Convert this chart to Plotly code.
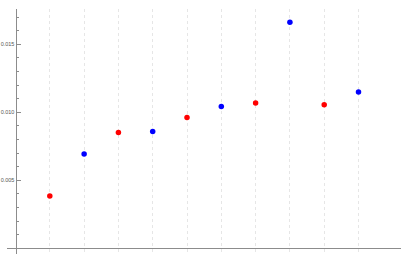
import plotly.graph_objects as go

red_x = [1, 3, 5, 7, 9]
red_y = [0.00385, 0.00851, 0.00961, 0.01069, 0.01056]
blue_x = [2, 4, 6, 8, 10]
blue_y = [0.00693, 0.00858, 0.01042, 0.01662, 0.01150]
x_ticks = [1, 2, 3, 4, 5, 6, 7, 8, 9, 10]
y_ticks = [0.005, 0.010, 0.015]
y_tick_text = ["0.005", "0.010", "0.015"]

fig = go.Figure()
fig.add_trace(go.Scatter(x=red_x, y=red_y, mode="markers",
                         marker=dict(color="#ff0000", size=5.5), showlegend=False))
fig.add_trace(go.Scatter(x=blue_x, y=blue_y, mode="markers",
                         marker=dict(color="#0000ff", size=5.5), showlegend=False))

fig.update_layout(
    width=406, height=254,
    margin=dict(l=7, r=5, t=9, b=0, autoexpand=False),
    paper_bgcolor="white", plot_bgcolor="white",
    xaxis=dict(range=[-0.248, 11.239], tickvals=x_ticks, showticklabels=False,
               showgrid=True, gridcolor="#e6e6e6", griddash="3px,3px", gridwidth=1,
               zeroline=False, showline=False, ticks="", automargin=False),
    yaxis=dict(range=[-0.000419, 0.017596], anchor="free", position=0.0216,
               tickvals=y_ticks, ticktext=y_tick_text, automargin=False,
               showline=True, linecolor="#8c8c8c", linewidth=1,
               ticks="inside", ticklen=4, tickcolor="#8c8c8c",
               minor=dict(dtick=0.001, ticks="inside", ticklen=2, tickcolor="#8c8c8c", showgrid=False),
               showgrid=False, zeroline=True, zerolinecolor="#8c8c8c", zerolinewidth=1,
               tickfont=dict(size=5.5, color="#555555", family="Liberation Sans")),
)

fig.write_html("out.html", config={"displayModeBar": False},
               post_script="document.body.style.margin='0';document.body.style.overflow='hidden';")
